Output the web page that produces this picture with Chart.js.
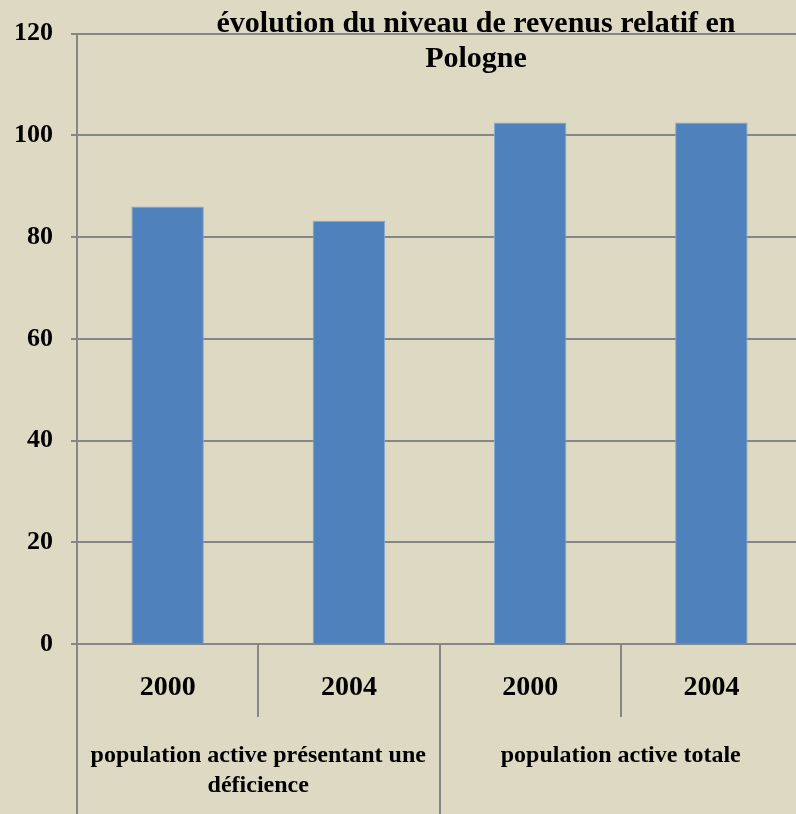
<!DOCTYPE html>
<html lang="fr">
<head>
<meta charset="UTF-8">
<title>évolution du niveau de revenus relatif en Pologne</title>
<style>
  html, body { margin: 0; padding: 0; overflow: hidden; background: #ddd9c3; }
  .chartBox { width: 810px; height: 814px; }
</style>
</head>
<body>
<div class="chartBox">
  <canvas id="myChart" width="810" height="814" style="width: 810px; height: 814px"></canvas>
</div>
<script src="https://cdn.jsdelivr.net/npm/chart.js"></script>
<script>
  // data
  const years = ['2000', '2004', '2000', '2004'];
  const revenus = [86, 83.2, 102.5, 102.5];
  const groupLabels = [
    ['population active présentant une', 'déficience'],
    ['population active totale']
  ];
  const groupSize = 2;
  const titleLines = ['évolution du niveau de revenus relatif en', 'Pologne'];
  const yTicks = [0, 20, 40, 60, 80, 100, 120];

  const gridColor = '#868686';
  const serif = '"Liberation Serif", "DejaVu Serif", serif';

  // title, group labels and separator lines below the axis
  const decor = {
    id: 'decor',
    afterDraw(chart) {
      const c = chart.ctx;
      const area = chart.chartArea;
      const x = chart.scales.x;
      const h = chart.height;
      c.save();
      c.strokeStyle = gridColor;
      c.lineWidth = 2;

      // axis line continues down
      c.beginPath();
      c.moveTo(area.left, area.bottom);
      c.lineTo(area.left, h);
      c.stroke();

      for (let i = 1; i < years.length; i++) {
        const px = Math.round(x.getPixelForValue(i - 0.5));
        const isGroup = i % groupSize === 0;
        c.beginPath();
        c.moveTo(px, area.bottom);
        c.lineTo(px, isGroup ? h : area.bottom + 73);
        c.stroke();
      }

      c.fillStyle = '#000';
      c.textAlign = 'center';
      c.textBaseline = 'middle';
      c.font = 'bold 24px ' + serif;
      groupLabels.forEach((lines, g) => {
        const a = x.getPixelForValue(g * groupSize - 0.5);
        const b = x.getPixelForValue(g * groupSize + groupSize - 0.5);
        lines.forEach((t, k) => c.fillText(t, (a + b) / 2, 756 + k * 30));
      });

      c.font = 'bold 30px ' + serif;
      titleLines.forEach((t, k) => c.fillText(t, 476, 24 + k * 35));
      c.restore();
    }
  };

  const ctx = document.getElementById('myChart');
  const myChart = new Chart(ctx, {
    type: 'bar',
    data: {
      labels: years,
      datasets: [{
        label: 'revenus relatifs',
        data: revenus,
        backgroundColor: '#4f81bd',
        borderColor: '#8ba7cf',
        borderWidth: 1,
        categoryPercentage: 1,
        barPercentage: 0.4
      }]
    },
    options: {
      responsive: false,
      maintainAspectRatio: false,
      devicePixelRatio: 1,
      animation: false,
      layout: { padding: { top: 29, right: 8, left: 0, bottom: 0 } },
      plugins: {
        legend: { display: false },
        title: { display: false },
        tooltip: { enabled: false }
      },
      scales: {
        y: {
          min: 0,
          max: 120,
          afterBuildTicks: s => { s.ticks = yTicks.map(v => ({ value: v })); },
          afterFit: s => { s.width = 77; },
          grid: { color: gridColor, lineWidth: 2, tickLength: 6 },
          border: { color: gridColor, width: 2 },
          ticks: {
            color: '#000',
            padding: 18,
            font: { family: serif, size: 26, weight: 'bold' }
          }
        },
        x: {
          afterFit: s => { s.height = 170; },
          grid: { display: false },
          border: { display: false },
          ticks: {
            color: '#000',
            padding: 19,
            maxRotation: 0,
            autoSkip: false,
            font: { family: serif, size: 28, weight: 'bold' }
          }
        }
      }
    },
    plugins: [decor]
  });
</script>
</body>
</html>
